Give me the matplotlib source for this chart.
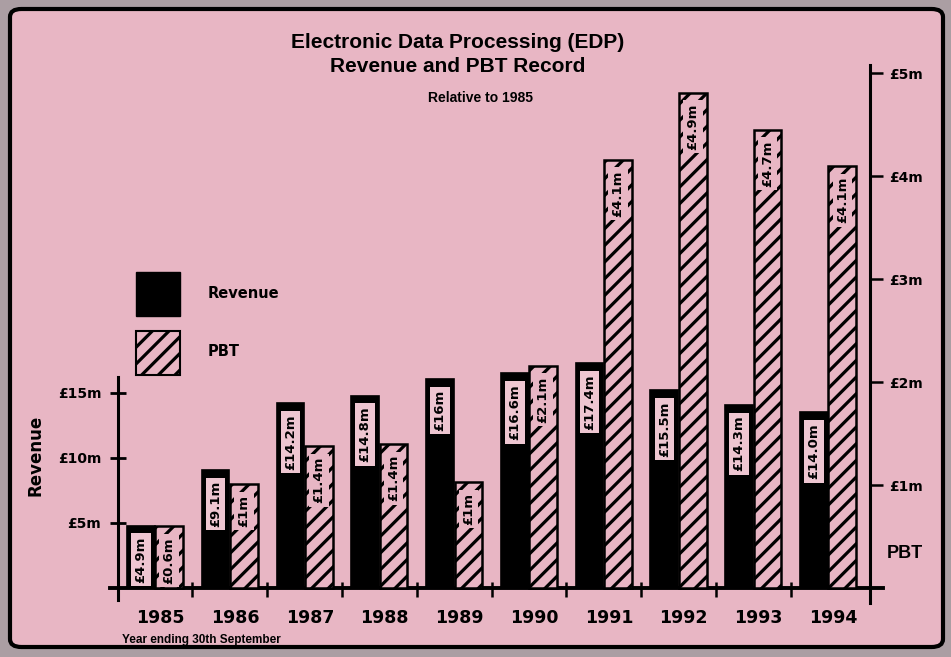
import matplotlib
matplotlib.use("Agg")
import matplotlib.pyplot as plt
import numpy as np
from matplotlib.patches import Patch, FancyBboxPatch

# values (bar heights) and the printed bar labels
years = ["1985", "1986", "1987", "1988", "1989", "1990", "1991", "1992", "1993", "1994"]
revenue = [4.8, 9.1, 14.2, 14.8, 16.1, 16.5, 17.3, 15.2, 14.1, 13.5]
pbt = [0.60, 1.01, 1.38, 1.40, 1.03, 2.16, 4.16, 4.81, 4.45, 4.10]
revenue_labels = ["£4.9m", "£9.1m", "£14.2m", "£14.8m", "£16m",
                  "£16.6m", "£17.4m", "£15.5m", "£14.3m", "£14.0m"]
pbt_labels = ["£0.6m", "£1m", "£1.4m", "£1.4m", "£1m",
              "£2.1m", "£4.1m", "£4.9m", "£4.7m", "£4.1m"]
left_ticks = [5, 10, 15]
left_ticklabels = ["£5m", "£10m", "£15m"]
right_ticks = [1, 2, 3, 4, 5]
right_ticklabels = ["£1m", "£2m", "£3m", "£4m", "£5m"]

PINK = "#e8b6c4"
LABEL_BG = "#eec6d1"
HEAD = "Liberation Sans"

plt.rcParams.update(
    {
        "font.family": "DejaVu Sans",
        "font.weight": "bold",
        "hatch.linewidth": 2.3,
    }
)

fig = plt.figure(figsize=(9.51, 6.57), dpi=100, facecolor="#ab9ea3")
frame = FancyBboxPatch(
    (10 / 951, 10 / 657), 933 / 951, 638 / 657,
    boxstyle="round,pad=0,rounding_size=0.012",
    transform=fig.transFigure, facecolor=PINK, edgecolor="black", lw=3,
    zorder=-10,
)
fig.patches.append(frame)

ax = fig.add_axes([118 / 951, 52 / 657, 752 / 951, 540 / 657])
ax.patch.set_visible(False)
ax2 = ax.twinx()

x = np.arange(len(years))
w = 0.37
ax.bar(x - 0.19, revenue, w, color="black", edgecolor="black", lw=1.2, zorder=3)
ax2.bar(x + 0.19, pbt, w, facecolor=PINK, edgecolor="black", hatch="//", lw=1.8, zorder=3)

ax.set_xlim(-0.495, 9.56)
ax.set_ylim(-1.308, 40.23)
ax2.set_ylim(-0.165, 5.078)

for a in (ax, ax2):
    a.spines["top"].set_visible(False)
    a.spines["bottom"].set_visible(False)
ax.spines["right"].set_visible(False)
ax2.spines["left"].set_visible(False)
ax.spines["left"].set_bounds(-0.92, 16.2)
ax.spines["left"].set_linewidth(2.2)
ax2.spines["right"].set_bounds(-0.15, 5.078)
ax2.spines["right"].set_linewidth(2.2)

# baseline (runs a little past both spines) and group separators
ax.axhline(0, xmin=-8 / 752, xmax=1 + 13 / 752, color="black", lw=2.8,
           zorder=4, clip_on=False)
ax.vlines(x[:-1] + 0.5, -0.69, 0.46, color="black", lw=1.8, zorder=4)

ax.set_yticks(left_ticks, left_ticklabels)
ax.tick_params(axis="y", direction="inout", length=12, width=2, pad=6, labelsize=10)
ax2.set_yticks(right_ticks, right_ticklabels)
ax2.tick_params(axis="y", direction="out", length=9, width=1.8, pad=5, labelsize=10)
ax.set_xticks(x + 0.07, years)
ax.tick_params(axis="x", length=0, pad=3, labelsize=12.5)

# labels inside the bars
for xi, h, s in zip(x, revenue, revenue_labels):
    ax.annotate(s, (xi - 0.19, h), xytext=(0, -8), textcoords="offset points",
                rotation=90, ha="center", va="top", fontsize=9.5, zorder=5,
                bbox=dict(boxstyle="square,pad=0.25", fc=LABEL_BG, ec="none"))
for xi, h, s in zip(x, pbt, pbt_labels):
    ax2.annotate(s, (xi + 0.19, h), xytext=(0, -8), textcoords="offset points",
                 rotation=90, ha="center", va="top", fontsize=9.5, zorder=5,
                 bbox=dict(boxstyle="square,pad=0.25", fc=PINK, ec="none"))

# titles and other text
fig.text(458 / 951, 1 - 42 / 657, "Electronic Data Processing (EDP)", family=HEAD,
         fontsize=15, ha="center", va="center")
fig.text(458 / 951, 1 - 66 / 657, "Revenue and PBT Record", family=HEAD,
         fontsize=15, ha="center", va="center")
fig.text(480 / 951, 1 - 98 / 657, "Relative to 1985", family=HEAD,
         fontsize=10, ha="center", va="center")
fig.text(35 / 951, 1 - 455 / 657, "Revenue", fontsize=12, rotation=90,
         ha="center", va="center")
fig.text(905 / 951, 1 - 553 / 657, "PBT", family=HEAD, fontsize=13,
         ha="center", va="center")
fig.text(122 / 951, 1 - 640 / 657, "Year ending 30th September", family=HEAD,
         fontsize=8.5, ha="left", va="center")

handles = [
    Patch(facecolor="black", edgecolor="black"),
    Patch(facecolor=PINK, edgecolor="black", hatch="//", lw=1.5),
]
fig.legend(handles, ["Revenue", "PBT"], loc="upper left",
           bbox_to_anchor=(136 / 951, 1 - 272 / 657), frameon=False,
           fontsize=10.5, handlelength=3.0, handleheight=4.27, labelspacing=1.0,
           handletextpad=1.9, borderpad=0, borderaxespad=0)

fig.savefig("out.png", dpi=100, facecolor=fig.get_facecolor())
